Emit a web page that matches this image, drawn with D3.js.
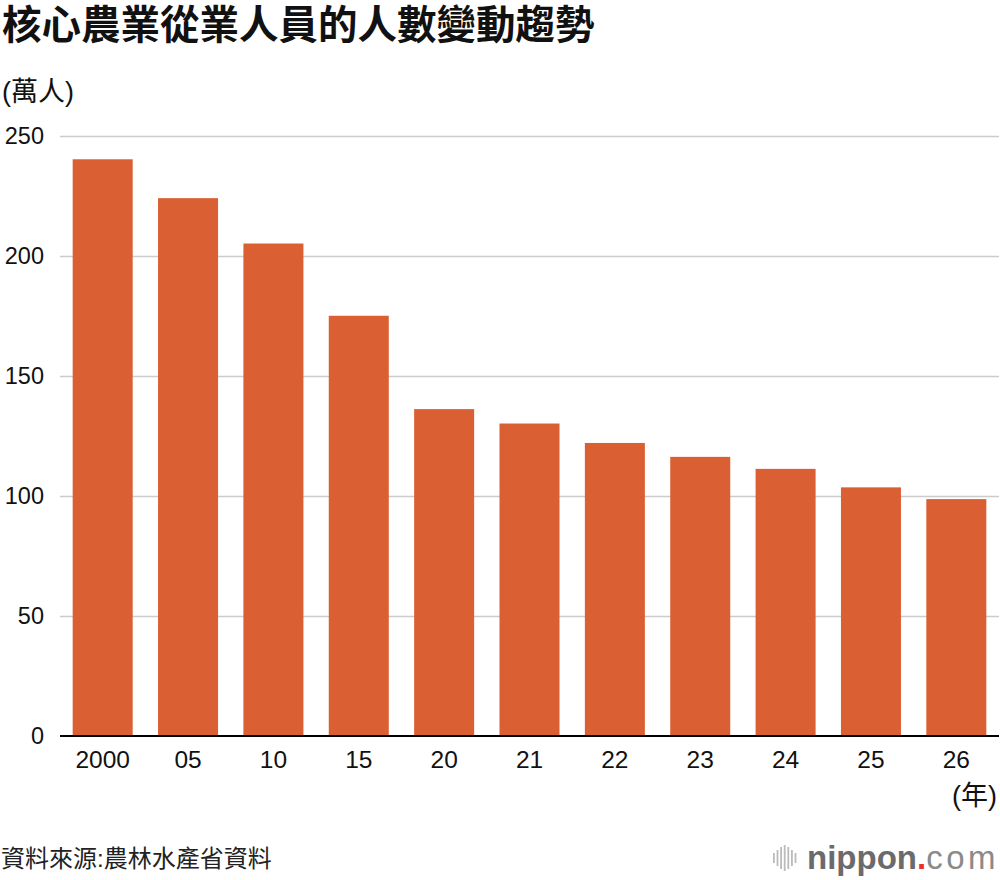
<!DOCTYPE html>
<html>
<head>
<meta charset="utf-8">
<script src="https://cdn.jsdelivr.net/npm/d3@7"></script>
<style>
  body { margin: 0; background: #fff; }
  text { font-family: "Liberation Sans", Arial, "Noto Sans CJK TC", sans-serif; }
  .cjk { font-family: "Noto Sans CJK TC", "Noto Sans CJK JP", sans-serif; }
  .mix { font-family: "Liberation Sans", "Noto Sans CJK TC", sans-serif; }
</style>
</head>
<body>
<div id="main"></div>
<script>
// dataset
const years = ['2000', '05', '10', '15', '20', '21', '22', '23', '24', '25', '26'];
const workers = [240.3, 224.1, 205.2, 175.1, 136.2, 130.2, 122.1, 116.3, 111.3, 103.6, 98.7];
const yTicks = [0, 50, 100, 150, 200, 250];

const W = 1000, H = 880;
const plotLeft = 60, plotRight = 999, plotTop = 136, plotBottom = 736;

const svg = d3.select('#main').append('svg')
  .attr('width', W)
  .attr('height', H);

const xScale = d3.scaleBand()
  .domain(years)
  .range([plotLeft, plotRight])
  .paddingInner(0.297)
  .paddingOuter(0.1485);

const yScale = d3.scaleLinear()
  .domain([0, 250])
  .range([plotBottom, plotTop]);

// title
svg.append('text')
  .attr('class', 'cjk')
  .attr('x', 2)
  .attr('y', 39)
  .attr('font-size', 39.5)
  .attr('font-weight', 700)
  .attr('fill', '#111')
  .text('核心農業從業人員的人數變動趨勢');

// unit
svg.append('text')
  .attr('class', 'mix')
  .attr('x', 2)
  .attr('y', 101)
  .attr('font-size', 27)
  .attr('fill', '#111')
  .text('(萬人)');

// grid
const grid = svg.append('g')
  .attr('transform', `translate(${plotLeft},0)`)
  .call(d3.axisLeft(yScale)
    .tickValues(yTicks.filter(d => d > 0))
    .tickSize(-(plotRight - plotLeft))
    .tickFormat(''));
grid.select('.domain').remove();
grid.selectAll('line').attr('stroke', '#cccccc').attr('stroke-width', 1.6);

// y labels
const yAxis = svg.append('g')
  .attr('transform', `translate(44,0)`)
  .call(d3.axisLeft(yScale).tickValues(yTicks).tickSize(0).tickPadding(0));
yAxis.select('.domain').remove();
yAxis.selectAll('text')
  .attr('font-size', 23.5)
  .attr('font-family', '"Liberation Sans", Arial, sans-serif')
  .attr('fill', '#111');

// bars
svg.append('g')
  .selectAll('rect')
  .data(years)
  .enter()
  .append('rect')
  .attr('x', d => xScale(d))
  .attr('y', (d, i) => yScale(workers[i]))
  .attr('width', xScale.bandwidth())
  .attr('height', (d, i) => plotBottom - yScale(workers[i]))
  .attr('fill', '#da5f33');

// x axis
const xAxis = svg.append('g')
  .attr('transform', `translate(0,${plotBottom})`)
  .call(d3.axisBottom(xScale).tickSize(0).tickPadding(15));
xAxis.select('.domain')
  .attr('d', `M${plotLeft},0H${plotRight}`)
  .attr('stroke', '#000')
  .attr('stroke-width', 2.2);
xAxis.selectAll('text')
  .attr('font-size', 24.5)
  .attr('font-family', '"Liberation Sans", Arial, sans-serif')
  .attr('fill', '#111');

svg.append('text')
  .attr('class', 'mix')
  .attr('x', 997)
  .attr('y', 805)
  .attr('text-anchor', 'end')
  .attr('font-size', 27)
  .attr('fill', '#111')
  .text('(年)');

// source
svg.append('text')
  .attr('class', 'cjk')
  .attr('x', 1)
  .attr('y', 867)
  .attr('font-size', 24)
  .attr('fill', '#222')
  .text('資料來源')
  .append('tspan')
  .attr('font-family', '"Liberation Sans", sans-serif')
  .text(':')
  .append('tspan')
  .attr('font-family', '"Noto Sans CJK TC", sans-serif')
  .text('農林水產省資料');

// logo
const logo = svg.append('g').attr('transform', 'translate(773,858)');
const barH = [10, 16, 22, 26, 22, 16, 10];
logo.selectAll('rect')
  .data(barH)
  .enter()
  .append('rect')
  .attr('x', (d, i) => i * 3.6)
  .attr('y', d => -d / 2)
  .attr('width', 1.8)
  .attr('height', d => d)
  .attr('fill', '#bbbbbb');
const lt = logo.append('text')
  .attr('x', 34)
  .attr('y', 11)
  .attr('font-size', 33)
  .attr('font-family', '"Open Sans", "Noto Sans", sans-serif');
lt.append('tspan').attr('font-weight', 700).attr('fill', '#6b6b6b').text('nippon');
lt.append('tspan').attr('font-weight', 700).attr('fill', '#e8302c').text('.');
lt.append('tspan').attr('font-weight', 400).attr('fill', '#8a8a8a').attr('letter-spacing', 3.5).text('com');
</script>
</body>
</html>
